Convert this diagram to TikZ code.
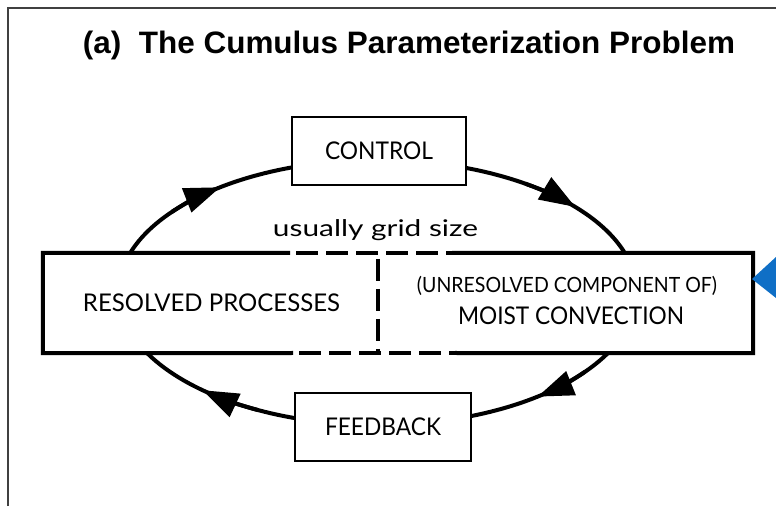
\documentclass[tikz,border=0pt]{standalone}
\usepackage{fontspec}
\usepackage{graphicx}
\setmainfont{Lato}
\newfontfamily\titlefont{Liberation Sans}
\usetikzlibrary{arrows.meta}
\definecolor{ptrblue}{HTML}{0F6FC6}
\newcommand\fitto[2]{\resizebox{#1pt}{\height}{#2}}
\tikzset{
  loopline/.style={line width=4pt},
  looparrow/.style={line width=4pt, -{Triangle[length=36pt,width=25pt]}},
  smallbox/.style={draw, line width=2.2pt, fill=white, inner sep=0pt,
                   minimum height=68pt, font=\fontsize{24.4}{28}\selectfont},
  halfbox/.style={fill=white, inner sep=0pt, minimum height=100pt},
  bigline/.style={line width=4pt, line join=miter},
  dashline/.style={line width=4pt, dash pattern=on 22pt off 8pt, dash phase=-6pt},
  lbl/.style={inner sep=0pt, anchor=base},
  framel/.style={line width=1.5pt, black!75},
}
\begin{document}
\begin{tikzpicture}[x=1pt,y=1pt]
\useasboundingbox (0,0) rectangle (776,506);
% outer frame
\draw[framel] (8,0) -- (8,498) -- (776,498);
% title
\node[lbl] (title) at (409,452)
  {\titlefont\bfseries\fontsize{31}{34}\selectfont\fitto{652}{(a)\ \ The Cumulus Parameterization Problem}};
% loop
\coordinate (c) at (377.5,213.5);
\draw[loopline] (c) ellipse [x radius=259, y radius=132.5];
% big box halves
\node[halfbox, minimum width=335pt] (resolved) at (210.5,203) {};
\node[halfbox, minimum width=375pt] (moist) at (565.5,203) {};
\draw[bigline] (290,253) -- (resolved.north west) -- (resolved.south west) -- (293,153);
\draw[bigline] (452,253) -- (moist.north east) -- (moist.south east) -- (455,153);
\draw[dashline] (290,253) -- (452,253);
\draw[dashline] (293,153) -- (455,153);
\draw[dashline] (resolved.north east) -- (resolved.south east);
% texts in big box
\node[lbl] (restext) at (211.5,194)
  {\fontsize{24.4}{28}\selectfont\fitto{257}{RESOLVED PROCESSES}};
\node[lbl] (unres) at (567,213)
  {\fontsize{21}{24}\selectfont\fitto{300}{(UNRESOLVED COMPONENT OF)}};
\node[lbl] (moisttext) at (571,181)
  {\fontsize{24.4}{28}\selectfont\fitto{226}{MOIST CONVECTION}};
\node[lbl] (grid) at (375.5,269)
  {\fontsize{23}{26}\selectfont\fitto{205}{usually grid size}};
% small boxes
\node[smallbox, minimum width=174pt] (control) at (379,355) {\fitto{108}{CONTROL}};
\node[smallbox, minimum width=176pt] (feedback) at (383,79) {\fitto{116}{FEEDBACK}};
% arrowheads on the loop (clockwise)
\draw[looparrow] (c) ++(142.4:259 and 132.5) arc[start angle=142.4, end angle=127.4, x radius=259, y radius=132.5];
\draw[looparrow] (c) ++(55.2:259 and 132.5) arc[start angle=55.2, end angle=40.2, x radius=259, y radius=132.5];
\draw[looparrow] (c) ++(-36.8:259 and 132.5) arc[start angle=-36.8, end angle=-51.8, x radius=259, y radius=132.5];
\draw[looparrow] (c) ++(-117.5:259 and 132.5) arc[start angle=-117.5, end angle=-132.5, x radius=259, y radius=132.5];
% blue pointer at the right edge
\fill[ptrblue] (752,227) -- (776,249) -- (776,208) -- cycle;
\end{tikzpicture}
\end{document}
